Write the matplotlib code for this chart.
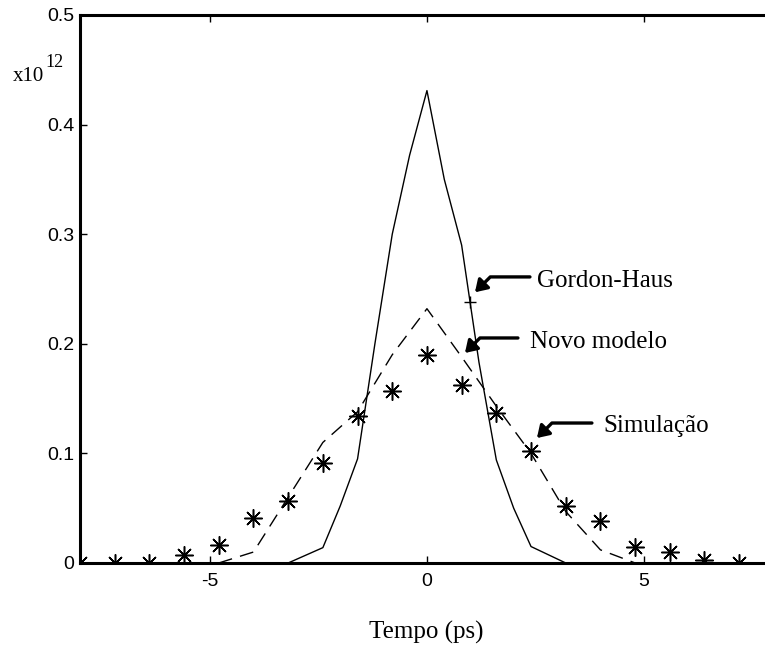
import matplotlib.pyplot as plt

# Gordon-Haus (solid line)
gh_t = [-3.2, -2.4, -2.0, -1.6, -1.2, -0.8, -0.4, 0.0, 0.4, 0.8, 1.2, 1.6, 2.0, 2.4, 3.2]
gh_p = [0.0, 0.014, 0.052, 0.095, 0.20, 0.30, 0.372, 0.431, 0.35, 0.29, 0.183, 0.094, 0.05, 0.015, 0.0]
gh_mark_t = [0.99]
gh_mark_p = [0.238]

# Novo modelo (dashed line)
nm_t = [-4.8, -4.0, -3.2, -2.4, -1.6, -0.8, 0.0, 0.8, 1.6, 2.4, 3.2, 4.0, 4.8]
nm_p = [0.0, 0.01, 0.06, 0.11, 0.138, 0.19, 0.232, 0.188, 0.143, 0.10, 0.047, 0.012, 0.0]

# Simulacao (asterisks)
sim_t = [-8.0, -7.2, -6.4, -5.6, -4.8, -4.0, -3.2, -2.4, -1.6, -0.8, 0.0,
         0.8, 1.6, 2.4, 3.2, 4.0, 4.8, 5.6, 6.4, 7.2, 8.0]
sim_p = [0.0, 0.0, 0.0, 0.007, 0.016, 0.041, 0.057, 0.091, 0.134, 0.157, 0.19,
         0.162, 0.137, 0.102, 0.052, 0.038, 0.015, 0.010, 0.003, 0.0, 0.0]

x_ticks = [-5, 0, 5]
y_ticks = [0, 0.1, 0.2, 0.3, 0.4, 0.5]
y_labels = ['0', '0.1', '0.2', '0.3', '0.4', '0.5']

# (label, arrow tip, arrow start, text position)
labels = [
    ('Gordon-Haus', (1.107, 0.247), (2.375, 0.261), (2.536, 0.2518)),
    ('Novo modelo', (0.876, 0.1916), (2.098, 0.2053), (2.375, 0.1962)),
    ('Simulação', (2.536, 0.114), (3.804, 0.1277), (4.058, 0.1195)),
]

serif = ['Liberation Serif', 'DejaVu Serif']
sans = ['Liberation Sans', 'DejaVu Sans']

fig = plt.figure(figsize=(7.65, 6.48), dpi=100)
ax = fig.add_axes([0.1046, 0.1312, 0.907, 0.8457])

ax.plot(gh_t, gh_p, color='black', lw=1.0)
ax.plot(gh_mark_t, gh_mark_p, ls='', marker='+', ms=8, mew=1.0, color='black')
ax.plot(nm_t, nm_p, color='black', lw=1.0, ls=(0, (10, 6)))
ax.plot(sim_t, sim_p, ls='', marker=(8, 2, 0), ms=13, mew=1.1, color='black')
ax.plot(sim_t, sim_p, ls='', marker='o', ms=3, color='black')

for text, tip, start, pos in labels:
    ax.annotate('', xy=tip, xytext=start,
                arrowprops=dict(arrowstyle='-|>,head_length=0.7,head_width=0.45',
                                lw=2.4, color='black', shrinkA=0, shrinkB=0,
                                mutation_scale=10,
                                connectionstyle='angle,angleA=0,angleB=45,rad=0'))
    ax.text(pos[0], pos[1], text, fontsize=18, family=serif,
            ha='left', va='baseline')

ax.set_xlim(-8, 8)
ax.set_ylim(0, 0.5)
ax.set_xticks(x_ticks)
ax.set_xticklabels([str(v) for v in x_ticks])
ax.set_yticks(y_ticks)
ax.set_yticklabels(y_labels)
ax.tick_params(direction='in', length=5, width=1, top=True, right=True,
               labelsize=14)
ax.tick_params(axis='x', pad=7)
ax.tick_params(axis='y', pad=4)
for lab in ax.get_xticklabels() + ax.get_yticklabels():
    lab.set_family(sans)
for s in ax.spines.values():
    s.set_linewidth(2.2)

fig.text(13 / 765, 1 - 81 / 648, 'x10', fontsize=15, family=serif,
         ha='left', va='baseline')
fig.text(45 / 765, 1 - 67 / 648, '12', fontsize=13, family=serif,
         ha='left', va='baseline')
fig.text(426 / 765, 1 - 639 / 648, 'Tempo (ps)', fontsize=18, family=serif,
         ha='center', va='baseline')

fig.savefig('out.png', dpi=100)
